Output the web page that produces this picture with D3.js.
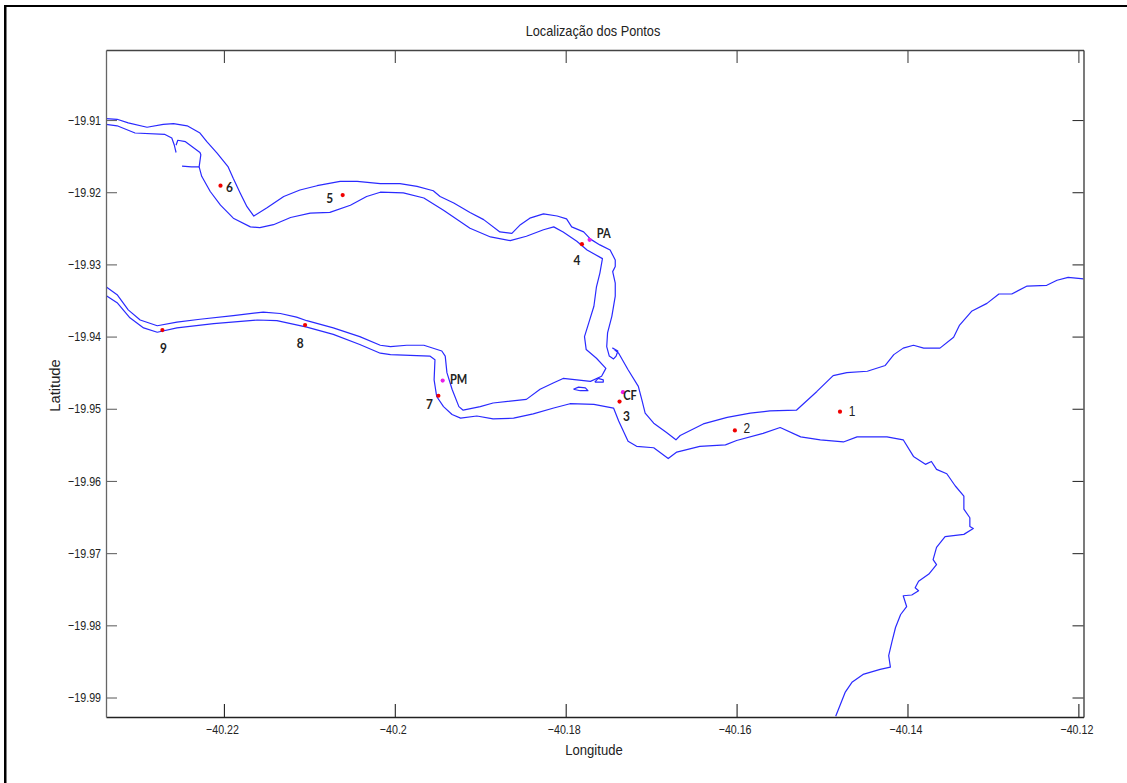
<!DOCTYPE html>
<html>
<head>
<meta charset="utf-8">
<script src="https://cdn.jsdelivr.net/npm/d3@7"></script>
<style>
  html, body { margin: 0; padding: 0; background: #fff; }
  svg { display: block; }
  text { font-family: "Liberation Sans", sans-serif; fill: #222; }
</style>
</head>
<body>
<div id="chart-area"></div>
<script>
// north bank of the upper channel, runs on round the hook and out along the coast
const northBank = [
  [-40.2338,-19.9098],[-40.2325,-19.9099],[-40.2312,-19.9104],[-40.2290,-19.9110],[-40.2271,-19.9106],
  [-40.2259,-19.9105],[-40.2243,-19.9108],[-40.2228,-19.9118],[-40.2220,-19.9130],[-40.2208,-19.9146],
  [-40.2195,-19.9165],[-40.2189,-19.9181],[-40.2181,-19.9201],[-40.2173,-19.9220],[-40.2165,-19.9233],
  [-40.2150,-19.9222],[-40.2130,-19.9206],[-40.2111,-19.9197],[-40.2091,-19.9191],[-40.2064,-19.9185],
  [-40.2044,-19.9185],[-40.2017,-19.9188],[-40.1994,-19.9188],[-40.1974,-19.9192],[-40.1955,-19.9198],
  [-40.1947,-19.9206],[-40.1931,-19.9215],[-40.1912,-19.9228],[-40.1896,-19.9238],[-40.1877,-19.9255],
  [-40.1863,-19.9257],[-40.1853,-19.9245],[-40.1842,-19.9236],[-40.1826,-19.9230],[-40.1810,-19.9233],
  [-40.1799,-19.9237],[-40.1793,-19.9248],[-40.1779,-19.9255],[-40.1771,-19.9265],[-40.1760,-19.9273],
  [-40.1748,-19.9280],[-40.1742,-19.9294],[-40.1742,-19.9303],[-40.1745,-19.9310],[-40.1742,-19.9326],
  [-40.1742,-19.9344],[-40.1746,-19.9372],[-40.1751,-19.9395],[-40.1752,-19.9414],[-40.1749,-19.9427],
  [-40.1744,-19.9431],[-40.1741,-19.9427],[-40.1739,-19.9420],[-40.1745,-19.9416],[-40.1738,-19.9423],
  [-40.1727,-19.9446],[-40.1715,-19.9469],[-40.1711,-19.9487],[-40.1707,-19.9506],[-40.1697,-19.9520],
  [-40.1682,-19.9533],[-40.1671,-19.9543],[-40.1666,-19.9537],[-40.1639,-19.9521],[-40.1611,-19.9512],
  [-40.1584,-19.9506],[-40.1561,-19.9503],[-40.1530,-19.9502],[-40.1506,-19.9476],[-40.1487,-19.9454],
  [-40.1471,-19.9450],[-40.1447,-19.9448],[-40.1426,-19.9440],[-40.1416,-19.9425],[-40.1405,-19.9416],
  [-40.1393,-19.9412],[-40.1381,-19.9416],[-40.1362,-19.9416],[-40.1346,-19.9401],[-40.1339,-19.9384],
  [-40.1325,-19.9365],[-40.1307,-19.9354],[-40.1293,-19.9341],[-40.1278,-19.9341],[-40.1260,-19.9330],
  [-40.1237,-19.9329],[-40.1225,-19.9322],[-40.1212,-19.9318],[-40.1194,-19.9320]
];

// start of the south bank, ends in the little creek
const creekMouth = [
  [-40.2338,-19.9106],[-40.2325,-19.9108],[-40.2304,-19.9118],[-40.2269,-19.9120],[-40.2261,-19.9125],
  [-40.2258,-19.9135],[-40.2256,-19.9145]
];

// the inner bank: from the creek along the upper channel, back west along the lower channel
const innerBank = [
  [-40.2256,-19.9135],[-40.2254,-19.9128],[-40.2245,-19.9130],[-40.2228,-19.9145],[-40.2227,-19.9148],
  [-40.2229,-19.9165],[-40.2226,-19.9178],[-40.2216,-19.9199],[-40.2204,-19.9218],[-40.2189,-19.9236],
  [-40.2169,-19.9248],[-40.2158,-19.9249],[-40.2142,-19.9245],[-40.2122,-19.9235],[-40.2099,-19.9229],
  [-40.2076,-19.9228],[-40.2052,-19.9218],[-40.2033,-19.9206],[-40.2017,-19.9200],[-40.1990,-19.9201],
  [-40.1966,-19.9208],[-40.1943,-19.9225],[-40.1912,-19.9250],[-40.1888,-19.9262],[-40.1865,-19.9267],
  [-40.1846,-19.9261],[-40.1826,-19.9252],[-40.1814,-19.9248],[-40.1803,-19.9255],[-40.1787,-19.9268],
  [-40.1775,-19.9280],[-40.1757,-19.9292],[-40.1760,-19.9312],[-40.1764,-19.9331],[-40.1767,-19.9358],
  [-40.1773,-19.9381],[-40.1778,-19.9400],[-40.1776,-19.9418],[-40.1764,-19.9430],[-40.1753,-19.9444],
  [-40.1758,-19.9455],[-40.1771,-19.9462],[-40.1787,-19.9460],[-40.1803,-19.9458],[-40.1814,-19.9464],
  [-40.1830,-19.9473],[-40.1846,-19.9487],[-40.1885,-19.9492],[-40.1900,-19.9497],[-40.1920,-19.9502],
  [-40.1925,-19.9497],[-40.1933,-19.9473],[-40.1939,-19.9450],[-40.1941,-19.9427],[-40.1945,-19.9420],
  [-40.1966,-19.9412],[-40.1986,-19.9412],[-40.2005,-19.9414],[-40.2017,-19.9412],[-40.2041,-19.9400],
  [-40.2072,-19.9388],[-40.2103,-19.9378],[-40.2115,-19.9373],[-40.2134,-19.9368],[-40.2154,-19.9366],
  [-40.2189,-19.9371],[-40.2228,-19.9376],[-40.2255,-19.9380],[-40.2278,-19.9385],[-40.2298,-19.9377],
  [-40.2312,-19.9363],[-40.2325,-19.9342],[-40.2338,-19.9331]
];

const creekBranch = [[-40.2249,-19.9164],[-40.2238,-19.9165],[-40.2229,-19.9165]];

// south bank of the lower channel and then the coast going south
const southBank = [
  [-40.2338,-19.9343],[-40.2325,-19.9353],[-40.2310,-19.9374],[-40.2294,-19.9388],[-40.2278,-19.9394],
  [-40.2255,-19.9388],[-40.2212,-19.9382],[-40.2161,-19.9377],[-40.2138,-19.9378],[-40.2103,-19.9387],
  [-40.2072,-19.9397],[-40.2041,-19.9411],[-40.2017,-19.9423],[-40.2005,-19.9425],[-40.1959,-19.9427],
  [-40.1953,-19.9432],[-40.1954,-19.9460],[-40.1951,-19.9483],[-40.1943,-19.9497],[-40.1933,-19.9508],
  [-40.1923,-19.9513],[-40.1904,-19.9510],[-40.1885,-19.9514],[-40.1861,-19.9513],[-40.1838,-19.9507],
  [-40.1814,-19.9499],[-40.1795,-19.9493],[-40.1767,-19.9494],[-40.1744,-19.9499],[-40.1738,-19.9517],
  [-40.1727,-19.9545],[-40.1717,-19.9552],[-40.1697,-19.9554],[-40.1680,-19.9569],[-40.1670,-19.9560],
  [-40.1643,-19.9552],[-40.1613,-19.9550],[-40.1600,-19.9544],[-40.1569,-19.9534],[-40.1549,-19.9526],
  [-40.1525,-19.9539],[-40.1502,-19.9543],[-40.1475,-19.9546],[-40.1459,-19.9539],[-40.1424,-19.9539],
  [-40.1405,-19.9543],[-40.1393,-19.9566],[-40.1379,-19.9577],[-40.1372,-19.9573],[-40.1366,-19.9584],
  [-40.1354,-19.9590],[-40.1344,-19.9607],[-40.1334,-19.9621],[-40.1334,-19.9639],[-40.1327,-19.9651],
  [-40.1327,-19.9663],[-40.1323,-19.9666],[-40.1334,-19.9674],[-40.1356,-19.9677],[-40.1366,-19.9692],
  [-40.1370,-19.9709],[-40.1366,-19.9716],[-40.1375,-19.9729],[-40.1387,-19.9739],[-40.1391,-19.9748],
  [-40.1387,-19.9752],[-40.1395,-19.9758],[-40.1405,-19.9759],[-40.1401,-19.9774],[-40.1408,-19.9785],
  [-40.1414,-19.9803],[-40.1418,-19.9822],[-40.1422,-19.9842],[-40.1420,-19.9858],[-40.1432,-19.9861],
  [-40.1452,-19.9868],[-40.1465,-19.9879],[-40.1473,-19.9893],[-40.1484,-19.9926]
];

const islandWest = [[-40.1791,-19.9473],[-40.1785,-19.9470],[-40.1777,-19.9471],[-40.1774,-19.9475],[-40.1783,-19.9475],[-40.1791,-19.9473]];
const islandEast = [[-40.1766,-19.9463],[-40.1762,-19.9458],[-40.1756,-19.9460],[-40.1756,-19.9463],[-40.1766,-19.9463]];

const coastLines = [northBank, creekMouth, innerBank, creekBranch, southBank, islandWest, islandEast];

// sampling points
const pointNames = ["1", "2", "3", "4", "5", "6", "7", "8", "9"];
const pointLon = [-40.1479, -40.1602, -40.1737, -40.1781, -40.2061, -40.2204, -40.1949, -40.2105, -40.2272];
const pointLat = [-19.9504, -19.9530, -19.9490, -19.9272, -19.9204, -19.9191, -19.9482, -19.9384, -19.9391];

// the three named stations
const stationNames = ["PA", "PM", "CF"];
const stationLon = [-40.1772, -40.1944, -40.1733];
const stationLat = [-19.9266, -19.9461, -19.9477];

const xTicks = [-40.22, -40.2, -40.18, -40.16, -40.14, -40.12];
const yTicks = [-19.91, -19.92, -19.93, -19.94, -19.95, -19.96, -19.97, -19.98, -19.99];

const titleText = "Localização dos Pontos";
const xLabel = "Longitude";
const yLabel = "Latitude";

const width = 1127, height = 783;
const plotLeft = 106, plotRight = 1083.5, plotTop = 50, plotBottom = 717;

const svg = d3.select("#chart-area").append("svg")
    .attr("width", width)
    .attr("height", height);

// the original text looks squeezed, so narrow each text to a share of its natural width
function squeeze(sel, factor) {
  sel.attr("lengthAdjust", "spacingAndGlyphs")
    .attr("textLength", function() { return this.getComputedTextLength() * factor; });
}

// black lines left over from the screenshot
svg.append("rect").attr("x", 4).attr("y", 5).attr("width", 2.5).attr("height", height - 5).attr("fill", "#000");
svg.append("rect").attr("x", 4).attr("y", 5).attr("width", width - 4).attr("height", 2).attr("fill", "#000");

const x = d3.scaleLinear().domain([-40.2338, -40.1194]).range([plotLeft, plotRight]);
const y = d3.scaleLinear().domain([-19.9003, -19.9927]).range([plotTop, plotBottom]);

svg.append("clipPath").attr("id", "plot").append("rect")
    .attr("x", plotLeft).attr("y", plotTop).attr("width", plotRight - plotLeft).attr("height", plotBottom - plotTop);

const lineGen = d3.line().x(d => x(d[0])).y(d => y(d[1]));

svg.append("g").attr("clip-path", "url(#plot)")
  .selectAll("path")
  .data(coastLines)
  .enter().append("path")
    .attr("d", lineGen)
    .attr("fill", "none")
    .attr("stroke", "#2a2aff")
    .attr("stroke-width", 1.2)
    .attr("stroke-linejoin", "round");

// ticks go inward on all four sides, labels only on left and bottom
const fmtX = d => d3.format(".2~f")(d);
const axes = [
  { axis: d3.axisBottom(x).tickValues(xTicks).tickFormat(fmtX).tickSizeInner(-13).tickPadding(8), at: [0, plotBottom], color: "#222" },
  { axis: d3.axisLeft(y).tickValues(yTicks).tickFormat(d3.format(".2f")).tickSizeInner(-11).tickPadding(5), at: [plotLeft, 0], color: "#666" },
  { axis: d3.axisTop(x).tickValues(xTicks).tickFormat("").tickSizeInner(-13), at: [0, plotTop], color: "#444" },
  { axis: d3.axisRight(y).tickValues(yTicks).tickFormat("").tickSizeInner(-11), at: [plotRight, 0], color: "#333" }
];

axes.forEach(a => {
  const g = svg.append("g").attr("transform", `translate(${a.at[0]},${a.at[1]})`).call(a.axis.tickSizeOuter(0));
  g.select(".domain").attr("stroke", a.color).attr("stroke-width", 1.3);
  g.selectAll(".tick line").attr("stroke", a.color).attr("stroke-width", 1.1);
  g.selectAll(".tick text")
    .attr("font-size", 13)
    .style("font-family", '"Liberation Sans", sans-serif')
    .attr("fill", "#222")
    .call(squeeze, 0.82);
});
svg.selectAll(".tick text").filter(function() { return this.getAttribute("dy") === "0.71em"; }).attr("dx", -2);

// point markers
svg.selectAll("circle.point")
  .data(pointNames)
  .enter().append("circle")
    .attr("class", "point")
    .attr("cx", (d, i) => x(pointLon[i]))
    .attr("cy", (d, i) => y(pointLat[i]))
    .attr("r", 2.1)
    .attr("fill", "#f00000");

svg.selectAll("circle.station")
  .data(stationNames)
  .enter().append("circle")
    .attr("class", "station")
    .attr("cx", (d, i) => x(stationLon[i]))
    .attr("cy", (d, i) => y(stationLat[i]))
    .attr("r", 2.1)
    .attr("fill", "#e81ee8");

// label offset from its marker, in pixels
const pointOffset = [[12, -1], [12, -2], [7, 14], [-5, 15], [-13, 2], [9, 1], [-9, 8], [-5, 17], [1, 17]];
const stationOffset = [[14, -7], [16, -2], [7, 3]];

svg.selectAll("text.pointLabel")
  .data(pointNames)
  .enter().append("text")
    .attr("class", "pointLabel")
    .attr("x", (d, i) => x(pointLon[i]) + pointOffset[i][0])
    .attr("y", (d, i) => y(pointLat[i]) + pointOffset[i][1])
    .attr("text-anchor", "middle")
    .attr("dominant-baseline", "central")
    .style("font-family", (d, i) => i < 2 ? '"Liberation Sans", sans-serif' : "Lato, sans-serif")
    .style("font-weight", (d, i) => i < 2 ? 400 : 700)
    .style("font-size", "14px")
    .text(d => d)
    .call(squeeze, 0.85);

svg.selectAll("text.stationLabel")
  .data(stationNames)
  .enter().append("text")
    .attr("class", "stationLabel")
    .attr("x", (d, i) => x(stationLon[i]) + stationOffset[i][0])
    .attr("y", (d, i) => y(stationLat[i]) + stationOffset[i][1])
    .attr("text-anchor", "middle")
    .attr("dominant-baseline", "central")
    .style("font-family", "Lato, sans-serif")
    .style("font-weight", 700)
    .style("font-size", "13.5px")
    .text(d => d)
    .call(squeeze, 0.82);

svg.append("text").attr("x", 593).attr("y", 36).attr("text-anchor", "middle").attr("font-size", 15).text(titleText).call(squeeze, 0.85);
svg.append("text").attr("x", 594).attr("y", 755).attr("text-anchor", "middle").attr("font-size", 15).text(xLabel).call(squeeze, 0.87);
svg.append("text").attr("transform", "translate(60,385.5) rotate(-90)").attr("text-anchor", "middle").attr("font-size", 15).text(yLabel).call(squeeze, 0.98);
</script>
</body>
</html>
